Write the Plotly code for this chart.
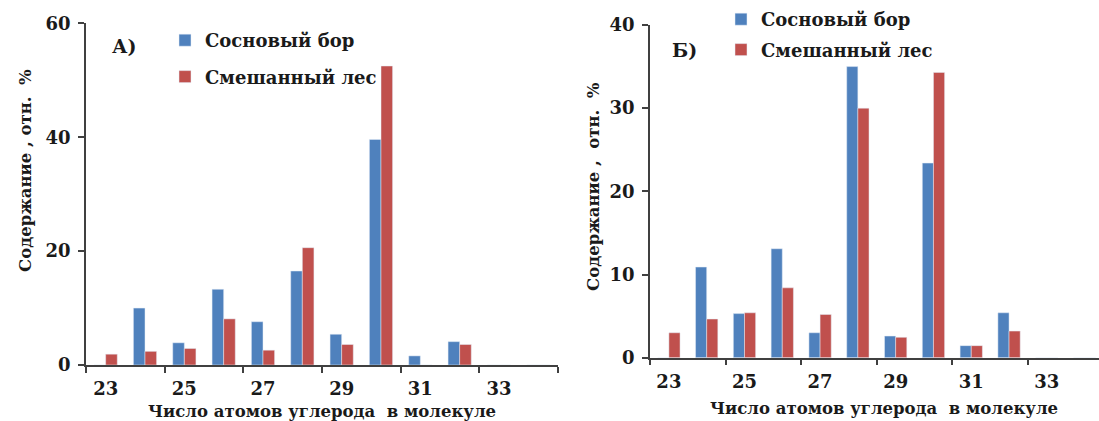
import plotly.graph_objects as go

carbons = [23, 24, 25, 26, 27, 28, 29, 30, 31, 32, 33, 34]
tick_labels = ["23", "25", "27", "29", "31", "33"]
tick_positions = [23, 25, 27, 29, 31, 33]

series_names = ["Сосновый бор", "Смешанный лес"]
a_pine = [0, 10.0, 3.9, 13.3, 7.6, 16.5, 5.4, 39.6, 1.6, 4.1, 0, 0]
a_mixed = [1.9, 2.4, 2.9, 8.1, 2.6, 20.6, 3.6, 52.5, 0, 3.6, 0, 0]
b_pine = [0, 10.9, 5.3, 13.1, 3.0, 35.0, 2.6, 23.4, 1.45, 5.4, 0, 0]
b_mixed = [3.0, 4.65, 5.4, 8.4, 5.2, 30.0, 2.45, 34.3, 1.45, 3.2, 0, 0]

BLUE = "#4F81BD"
RED = "#C0504D"
FONT = "DejaVu Serif"
AX = "#404040"
TXT = "#1a1a1a"

fig = go.Figure()
fig.add_trace(go.Bar(x=carbons, y=a_pine, name=series_names[0], marker_color=BLUE,
                     xaxis="x", yaxis="y", legend="legend", legendgroup="a1"))
fig.add_trace(go.Bar(x=carbons, y=a_mixed, name=series_names[1], marker_color=RED,
                     xaxis="x", yaxis="y", legend="legend", legendgroup="a2"))
fig.add_trace(go.Bar(x=carbons, y=b_pine, name=series_names[0], marker_color=BLUE,
                     xaxis="x2", yaxis="y2", legend="legend2", legendgroup="b1"))
fig.add_trace(go.Bar(x=carbons, y=b_mixed, name=series_names[1], marker_color=RED,
                     xaxis="x2", yaxis="y2", legend="legend2", legendgroup="b2"))

W, H = 1099, 421
xA = [86 / W, 558 / W]
xB = [650 / W, 1.0]
yA = [1 - 365 / H, 1 - 23.3 / H]
yB = [1 - 357.7 / H, 1 - 25 / H]

tickfont = dict(family=FONT, size=18, color=TXT, weight="bold")
xcommon = dict(tickvals=tick_positions, ticktext=tick_labels, ticks="",
               showline=True, linecolor=AX, linewidth=1.5, showgrid=False, zeroline=False,
               tickfont=tickfont, ticklabelstandoff=7, automargin=False,
               minor=dict(ticks="outside", tick0=24.5, dtick=2, ticklen=6, tickcolor=AX,
                          tickwidth=1.5, showgrid=False))
ycommon = dict(showline=True, linecolor=AX, linewidth=1.5, showgrid=False, zeroline=False,
               ticks="outside", ticklen=6, tickcolor=AX, tickwidth=1.5, automargin=False,
               ticklabelstandoff=4, tickfont=tickfont)

legfont = dict(family=FONT, size=18, color=TXT, weight="bold")
fig.update_layout(
    width=W, height=H,
    margin=dict(l=0, r=0, t=0, b=0, autoexpand=False),
    paper_bgcolor="white", plot_bgcolor="white",
    barmode="group", bargap=0.41, bargroupgap=0,
    xaxis=dict(domain=xA, range=[22.5, 34.5], anchor="y", **xcommon),
    yaxis=dict(domain=yA, range=[0, 60], dtick=20, anchor="x", **ycommon),
    xaxis2=dict(domain=xB, range=[22.5, 34.38], anchor="y2", **xcommon),
    yaxis2=dict(domain=yB, range=[0, 40], dtick=10, anchor="x2", **ycommon),
    legend=dict(x=165 / W, y=1 - 22 / H, xanchor="left", yanchor="top",
                xref="container", yref="container",
                font=legfont, bgcolor="rgba(0,0,0,0)", tracegroupgap=10, itemwidth=30),
    legend2=dict(x=721 / W, y=1 - 1 / H, xanchor="left", yanchor="top",
                 xref="container", yref="container",
                 font=legfont, bgcolor="rgba(0,0,0,0)", tracegroupgap=4, itemwidth=30),
    showlegend=True,
)

ann_font = dict(family=FONT, size=16.5, color=TXT, weight="bold")
lab_font = dict(family=FONT, size=19, color=TXT, weight="bold")
fig.add_annotation(text="Число атомов углерода  в молекуле", x=322 / W, y=1 - 411 / H,
                   xref="paper", yref="paper", showarrow=False, font=ann_font,
                   xanchor="center", yanchor="middle")
fig.add_annotation(text="Число атомов углерода  в молекуле", x=884 / W, y=1 - 408 / H,
                   xref="paper", yref="paper", showarrow=False, font=ann_font,
                   xanchor="center", yanchor="middle")
fig.add_annotation(text="Содержание , отн.  %", x=25 / W, y=1 - 171 / H,
                   xref="paper", yref="paper", showarrow=False, font=ann_font,
                   textangle=-90, xanchor="center", yanchor="middle")
fig.add_annotation(text="Содержание ,  отн.  %", x=594 / W, y=1 - 187 / H,
                   xref="paper", yref="paper", showarrow=False, font=ann_font,
                   textangle=-90, xanchor="center", yanchor="middle")
fig.add_annotation(text="А)", x=124 / W, y=1 - 46 / H, xref="paper", yref="paper",
                   showarrow=False, font=lab_font, xanchor="center", yanchor="middle")
fig.add_annotation(text="Б)", x=684 / W, y=1 - 50 / H, xref="paper", yref="paper",
                   showarrow=False, font=lab_font, xanchor="center", yanchor="middle")

fig.write_html("out.html", config={"displayModeBar": False},
               post_script="document.body.style.margin='0';document.body.style.overflow='hidden';")
